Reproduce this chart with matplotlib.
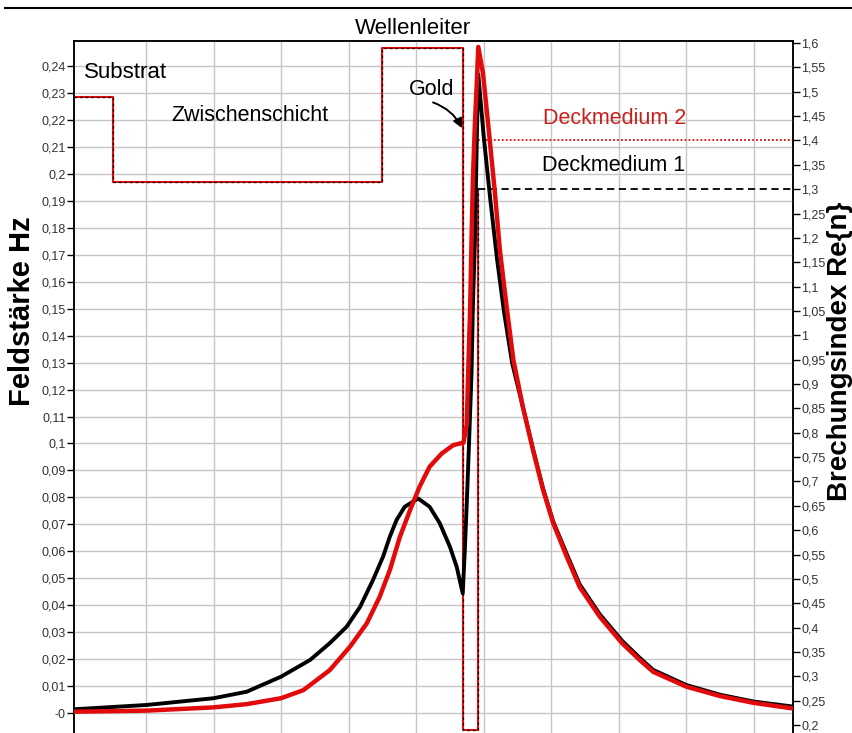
import matplotlib
matplotlib.use('Agg')
import matplotlib.pyplot as plt
from matplotlib.ticker import FuncFormatter, FixedLocator
from matplotlib.lines import Line2D
import numpy as np

# position across the layer stack (1 unit = 1 grid cell)
x_black = [-1.066, 0.01, 1.0, 1.49, 2.0, 2.43, 2.72, 2.97, 3.17, 3.36, 3.51, 3.61, 3.71,
           3.83, 4.03, 4.20, 4.35, 4.50, 4.60, 4.69, 4.72, 4.75, 4.78, 4.82, 4.84, 4.87,
           4.90, 4.92, 5.00, 5.10, 5.20, 5.30, 5.42, 5.58, 5.73, 5.88, 6.03, 6.23, 6.42,
           6.72, 7.05, 7.31, 7.51, 8.0, 8.5, 8.99, 9.58]
hz_black = [0.0014, 0.0030, 0.0055, 0.0079, 0.0135, 0.0197, 0.0259, 0.0320, 0.0394,
            0.0493, 0.0580, 0.0654, 0.0716, 0.0765, 0.0796, 0.0765, 0.0704, 0.0617,
            0.0543, 0.0444, 0.0600, 0.0780, 0.0980, 0.1260, 0.1507, 0.1754, 0.2150,
            0.2370, 0.2140, 0.1900, 0.1680, 0.1490, 0.1300, 0.1136, 0.0980, 0.0832,
            0.0710, 0.0590, 0.0478, 0.0366, 0.0268, 0.0205, 0.0160, 0.0104, 0.0068,
            0.0043, 0.0024]

x_red = [-1.066, 0.01, 1.0, 1.49, 2.0, 2.33, 2.72, 3.02, 3.27, 3.46, 3.61, 3.76, 3.91,
         4.05, 4.20, 4.38, 4.55, 4.70, 4.75, 4.77, 4.80, 4.82, 4.84, 4.87, 4.90, 4.92,
         4.99, 5.09, 5.17, 5.24, 5.34, 5.44, 5.58, 5.73, 5.88, 6.03, 6.23, 6.42, 6.72,
         7.05, 7.31, 7.51, 8.0, 8.5, 8.99, 9.58]
hz_red = [0.0005, 0.0009, 0.0021, 0.0033, 0.0055, 0.0085, 0.0159, 0.0246, 0.0333,
          0.0431, 0.0530, 0.0654, 0.0753, 0.0839, 0.0914, 0.0963, 0.0994, 0.1003,
          0.1070, 0.1260, 0.1507, 0.1754, 0.1977, 0.2187, 0.2348, 0.2471, 0.2373,
          0.2125, 0.1920, 0.1717, 0.1507, 0.1309, 0.1136, 0.0976, 0.0827, 0.0704,
          0.0580, 0.0468, 0.0357, 0.0259, 0.0197, 0.0153, 0.0098, 0.0063, 0.0038,
          0.0017]

# refractive index profile (real part)
x_profile = [-1.066, -0.494, -0.494, 3.5, 3.5, 4.69, 4.69, 4.91, 4.91]
n_profile = [1.49, 1.49, 1.315, 1.315, 1.59, 1.59, 0.19, 0.19, 1.3]
x_cover = [4.91, 9.58]
n_cover1 = [1.3, 1.3]
n_cover2 = [1.4, 1.4]

hz_ticks = np.round(np.arange(0, 0.2401, 0.01), 2)
n_ticks = np.round(np.arange(0.2, 1.6001, 0.05), 2)
x_grid = list(range(0, 10))

RED = '#e20a0a'


def comma_fmt(v, pos):
    if abs(v) < 1e-9:
        return '-0'
    return f'{round(v, 2):g}'.replace('.', ',')


plt.rcParams['font.family'] = ['Liberation Sans', 'DejaVu Sans']

fig = plt.figure(figsize=(8.53, 7.33), dpi=100)
ax = fig.add_axes([74 / 853, 0.0, (793 - 74) / 853, (733 - 41) / 733])
ax2 = ax.twinx()
ax.set_zorder(ax2.get_zorder() + 1)
ax.patch.set_visible(False)

ax.set_xlim(-1.066, 9.58)
ax.set_ylim(-0.0074, 0.2493)
ax2.set_ylim(0.1836, 1.6041)
nt = ax2.transData

# profile drawn in index coordinates, above the grid
ax.plot(x_profile, n_profile, color=RED, lw=1.5, transform=nt, zorder=2)
ax.plot(x_profile, n_profile, color='black', lw=0.9, ls=(0, (2, 2.5)), transform=nt, zorder=2)
ax.plot(x_cover, n_cover1, color='black', lw=1.3, ls=(0, (4, 2.5)), transform=nt, zorder=2)
ax.plot(x_cover, n_cover2, color=RED, lw=1.3, ls=(0, (1, 1.2)), transform=nt, zorder=2)

ax.plot(x_black, hz_black, color='black', lw=2.8, solid_joinstyle='round',
        solid_capstyle='round', zorder=3)
ax.plot(x_red, hz_red, color=RED, lw=3.2, solid_joinstyle='round',
        solid_capstyle='round', zorder=4)

ax.xaxis.set_major_locator(FixedLocator(x_grid))
ax.tick_params(axis='x', length=0, labelbottom=False)
ax.yaxis.set_major_locator(FixedLocator(hz_ticks))
ax.yaxis.set_major_formatter(FuncFormatter(comma_fmt))
ax2.yaxis.set_major_locator(FixedLocator(n_ticks))
ax2.yaxis.set_major_formatter(FuncFormatter(comma_fmt))
ax.tick_params(axis='y', length=5, width=1, pad=1, labelsize=9, labelcolor='#333333')
ax2.tick_params(axis='y', length=5, width=1, pad=1, labelsize=9, labelcolor='#333333')

ax.grid(True, color='#c6c6c6', lw=1)
ax.set_axisbelow(True)

for a in (ax, ax2):
    a.spines['bottom'].set_visible(False)
    for s in ('left', 'right', 'top'):
        a.spines[s].set_linewidth(1.1)

# layer labels
ax.text(-0.31, 1.54, 'Substrat', fontsize=16, ha='center', va='center', transform=nt, zorder=5)
ax.text(1.54, 1.452, 'Zwischenschicht', fontsize=15.5, ha='center', va='center', transform=nt, zorder=5)
ax.text(3.95, 1.63, 'Wellenleiter', fontsize=16, ha='center', va='center', clip_on=False,
        transform=nt, zorder=5)
ax.text(6.94, 1.445, 'Deckmedium 2', fontsize=15.5, ha='center', va='center', color='#c8201a',
        transform=nt, zorder=5)
ax.text(6.93, 1.349, 'Deckmedium 1', fontsize=15.5, ha='center', va='center', transform=nt, zorder=5)
ax.text(4.23, 1.505, 'Gold', fontsize=15.5, ha='center', va='center', transform=nt, zorder=5)
ax.annotate('', xy=(4.68, 1.425), xytext=(4.25, 1.478), xycoords=nt, textcoords=nt,
            zorder=5,
            arrowprops=dict(arrowstyle='-|>', color='black', lw=1.4,
                            shrinkA=0, shrinkB=0, mutation_scale=14,
                            connectionstyle='arc3,rad=-0.2'))

fig.text(22 / 853, 1 - 311 / 733, 'Feldstärke Hz', rotation=90, fontsize=21,
         fontweight='bold', ha='center', va='center')
fig.text(840 / 853, 1 - 351 / 733, 'Brechungsindex Re{n}', rotation=90, fontsize=20,
         fontweight='bold', ha='center', va='center')

fig.add_artist(Line2D([5 / 853, 1.0], [1 - 8 / 733, 1 - 8 / 733], color='black', lw=1.5))

fig.savefig('out.png', dpi=100)
